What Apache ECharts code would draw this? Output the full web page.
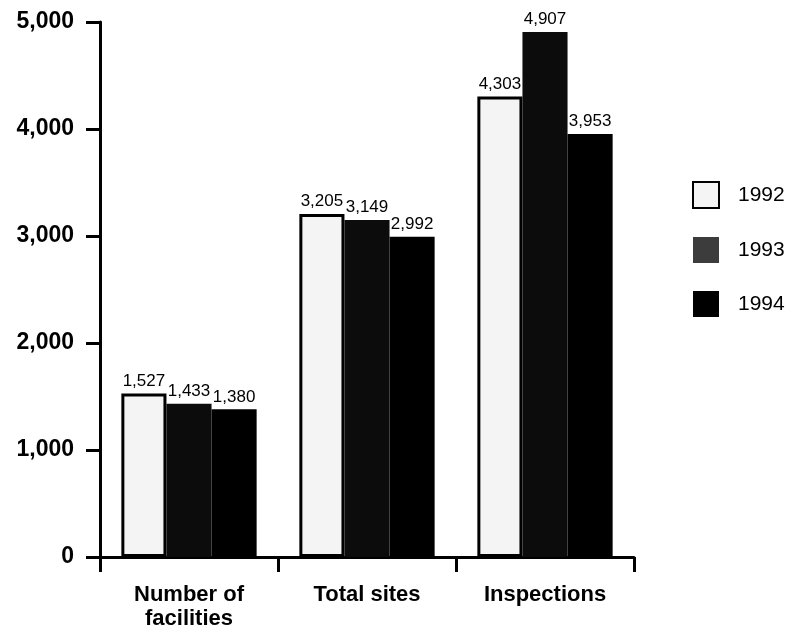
<!DOCTYPE html>
<html lang="en">
<head>
    <meta charset="UTF-8">
    <title>Facilities, sites and inspections</title>
    <style>
        body { margin: 0; background: #fff; }
        #chart { width: 791px; height: 632px; }
    </style>
</head>
<body>
    <div id="chart"></div>

    <script src="https://cdn.jsdelivr.net/npm/echarts@6/dist/echarts.min.js"></script>
    <script>
        var categories = ['Number of\nfacilities', 'Total sites', 'Inspections'];
        var years = ['1992', '1993', '1994'];
        var values1992 = [1527, 3205, 4303];
        var values1993 = [1433, 3149, 4907];
        var values1994 = [1380, 2992, 3953];
        var yTicks = [0, 1000, 2000, 3000, 4000, 5000];

        var font = '"Liberation Sans", Arial, Helvetica, sans-serif';
        var myChart = echarts.init(document.getElementById('chart'));

        function fmt(v) {
            return v.toLocaleString('en-US');
        }

        function barSeries(name, data, fill, border) {
            return {
                name: name,
                type: 'bar',
                data: data,
                barGap: '0%',
                barCategoryGap: '24%',
                itemStyle: { color: fill, borderColor: border, borderWidth: border ? 3 : 0 },
                label: {
                    show: true,
                    position: 'top',
                    distance: 4,
                    color: '#000',
                    fontFamily: font,
                    fontSize: 17,
                    formatter: function (p) { return fmt(p.value); }
                }
            };
        }

        var option = {
            animation: false,
            grid: { left: 100, top: 22, width: 534, height: 535 },
            legend: {
                orient: 'vertical',
                left: 687,
                top: 176,
                itemWidth: 26,
                itemHeight: 26,
                itemGap: 28,
                icon: 'rect',
                textStyle: { fontFamily: font, fontSize: 21, color: '#000', padding: [0, 0, 0, 14] },
                data: [
                    { name: '1992' },
                    { name: '1993', itemStyle: { color: '#3c3c3c' } },
                    { name: '1994' }
                ]
            },
            xAxis: {
                type: 'category',
                data: categories,
                axisLine: { lineStyle: { color: '#000', width: 3 } },
                axisTick: { show: true, length: 15, lineStyle: { color: '#000', width: 3 } },
                axisLabel: {
                    margin: 26,
                    color: '#000',
                    fontFamily: font,
                    fontSize: 22,
                    fontWeight: 'bold',
                    lineHeight: 24
                }
            },
            yAxis: {
                type: 'value',
                min: 0,
                max: 5000,
                interval: 1000,
                splitLine: { show: false },
                axisLine: { show: true, lineStyle: { color: '#000', width: 3 } },
                axisTick: { show: true, length: 14, lineStyle: { color: '#000', width: 3 } },
                axisLabel: {
                    margin: 26,
                    color: '#000',
                    fontFamily: font,
                    fontSize: 23,
                    fontWeight: 'bold',
                    formatter: function (v) { return yTicks.indexOf(v) >= 0 ? fmt(v) : ''; }
                }
            },
            series: [
                barSeries(years[0], values1992, '#f4f4f4', '#000'),
                barSeries(years[1], values1993, '#0c0c0c', null),
                barSeries(years[2], values1994, '#000000', null)
            ]
        };
        myChart.setOption(option);
    </script>
</body>
</html>
